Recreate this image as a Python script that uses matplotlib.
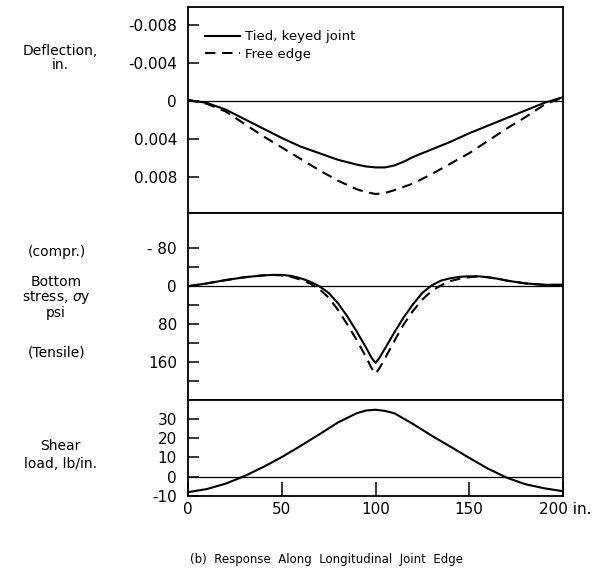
import numpy as np
import matplotlib
matplotlib.use("Agg")
import matplotlib.pyplot as plt

plt.rcParams['font.family'] = ['DejaVu Sans']

# distance along the joint edge, in.
x_defl = [0, 10, 20, 30, 40, 50, 60, 70, 80, 90, 95, 100, 105, 110, 115, 120,
          130, 140, 150, 160, 170, 180, 190, 200]
defl_tied = [-0.0001, 0.0002, 0.0009, 0.0019, 0.0029, 0.0039, 0.0048, 0.0055,
             0.0062, 0.0067, 0.0069, 0.0070, 0.0070, 0.0068, 0.0064, 0.0059,
             0.0051, 0.0043, 0.0034, 0.0026, 0.0018, 0.0010, 0.0002, -0.0004]
x_defl_free = [0, 10, 20, 30, 40, 50, 60, 70, 80, 90, 95, 100, 105, 110, 120,
               130, 140, 150, 160, 170, 180, 190, 200]
defl_free = [-0.0001, 0.0003, 0.0011, 0.0024, 0.0037, 0.0049, 0.0061, 0.0073,
             0.0084, 0.0093, 0.0096, 0.0098, 0.0097, 0.0094, 0.0087, 0.0077,
             0.0066, 0.0055, 0.0042, 0.0029, 0.0017, 0.0004, -0.0004]

x_stress = [0, 10, 20, 30, 40, 45, 50, 55, 60, 65, 70, 75, 80, 85, 90, 95, 98,
            100, 102, 105, 110, 115, 120, 125, 130, 135, 140, 145, 150, 155,
            160, 165, 170, 180, 190, 200]
stress_tied = [0, -6, -13, -19, -23, -24, -24, -22, -17, -10, 0, 14, 36, 64, 96,
               130, 152, 162, 152, 132, 98, 66, 38, 14, -2, -12, -17, -20, -21,
               -21, -19, -16, -12, -6, -3, -3]
stress_free = [0, -6, -13, -19, -23, -24, -23, -20, -14, -6, 6, 24, 50, 81, 114,
               150, 174, 185, 174, 153, 116, 81, 52, 28, 10, -2, -11, -16, -19,
               -21, -19, -16, -12, -6, -3, -3]

x_shear = [0, 10, 20, 30, 40, 50, 60, 70, 80, 90, 95, 100, 105, 110, 120, 130,
           140, 150, 160, 170, 180, 190, 200]
shear_load = [-8, -6.4, -3.6, 0.3, 5, 10.2, 16, 22, 28.2, 33, 34.4, 34.8, 34.2,
              33, 27.4, 21.3, 15.6, 9.8, 4.2, -0.5, -3.9, -6, -7.5]

defl_ticks = [-0.008, -0.004, 0, 0.004, 0.008]
defl_labels = ['-0.008', '-0.004', '0', '0.004', '0.008']
stress_ticks = [-80, -40, 0, 40, 80, 120, 160, 200]
stress_labels = ['- 80', '', '0', '', '80', '', '160', '']
shear_ticks = [-10, 0, 10, 20, 30]
shear_labels = ['-10', '0', '10', '20', '30']
x_ticks = [0, 50, 100, 150, 200]
x_labels = ['0', '50', '100', '150', '']

fig = plt.figure(figsize=(5.97, 5.69), dpi=100)

left, width = 0.315, 0.628
ax1 = fig.add_axes([left, 0.6257, width, 0.362])
ax2 = fig.add_axes([left, 0.2975, width, 0.3282])
ax3 = fig.add_axes([left, 0.1283, width, 0.1692])

dash = (0, (5, 3.2))

for ax in (ax1, ax2, ax3):
    ax.set_xlim(0, 200)
    for s in ax.spines.values():
        s.set_linewidth(1.3)
    ax.axhline(0, color='black', lw=0.9)
    ax.tick_params(axis='y', direction='in', length=8, width=1.1, pad=8,
                   labelsize=11)

# deflection
ax1.plot(x_defl, defl_tied, color='black', lw=1.5, label='Tied, keyed joint')
ax1.plot(x_defl_free, defl_free, color='black', lw=1.5, linestyle=dash,
         label='Free edge')
ax1.set_ylim(0.0118, -0.0099)
ax1.set_yticks(defl_ticks)
ax1.set_yticklabels(defl_labels)
ax1.set_xticks([])
ax1.legend(loc='upper left', frameon=False, fontsize=9.5, handlelength=2.6,
           handletextpad=0.4, labelspacing=0.35, borderaxespad=0.9,
           bbox_to_anchor=(0.0, 0.97))

# bottom stress
ax2.plot(x_stress, stress_tied, color='black', lw=1.5)
ax2.plot(x_stress, stress_free, color='black', lw=1.5, linestyle=dash)
ax2.set_ylim(240, -155)
ax2.set_yticks(stress_ticks)
ax2.set_yticklabels(stress_labels)
ax2.set_xticks([])

# shear load
ax3.plot(x_shear, shear_load, color='black', lw=1.5)
ax3.set_ylim(-10, 40)
ax3.set_yticks(shear_ticks)
ax3.set_yticklabels(shear_labels)
ax3.set_xticks(x_ticks)
ax3.set_xticklabels(x_labels)
ax3.tick_params(axis='x', direction='in', length=10, width=1.1, pad=4,
                labelsize=11)
# last x label carries the unit
ax3.annotate('200 in.', xy=(200, -10), xycoords='data', xytext=(-17, -4.5),
             textcoords='offset points', ha='left', va='top', fontsize=11)

# left side labels
lab = dict(ha='center', va='center', fontsize=10, linespacing=1.0)
fig.text(60 / 597, 1 - 58 / 569, 'Deflection,\nin.', **lab)
fig.text(57 / 597, 1 - 252 / 569, '(compr.)', **lab)
fig.text(56 / 597, 1 - 298 / 569, 'Bottom\nstress, $\\sigma$y\npsi', **lab)
fig.text(57 / 597, 1 - 352 / 569, '(Tensile)', **lab)
fig.text(60 / 597, 1 - 455 / 569, 'Shear\nload, lb/in.', ha='center',
         va='center', fontsize=10, linespacing=1.3)

fig.text(327 / 597, 1 - 560 / 569, '(b)  Response  Along  Longitudinal  Joint  Edge',
         ha='center', va='center', fontsize=8.5)

fig.savefig('out.png', dpi=100, facecolor='white')
